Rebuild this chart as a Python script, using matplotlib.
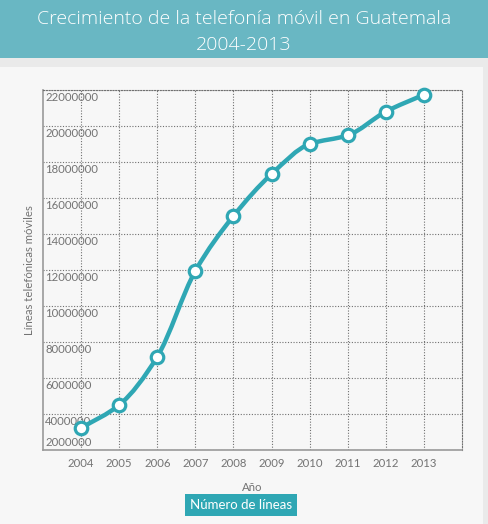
import numpy as np
import matplotlib
matplotlib.use("Agg")
import matplotlib.pyplot as plt
from matplotlib.path import Path
from matplotlib.patches import PathPatch, Rectangle

# datos
anios = [2004, 2005, 2006, 2007, 2008, 2009, 2010, 2011, 2012, 2013]
lineas = [3220000, 4500000, 7180000, 11950000, 15000000, 17330000,
          19000000, 19480000, 20800000, 21740000]
yticks = [2000000, 4000000, 6000000, 8000000, 10000000, 12000000,
          14000000, 16000000, 18000000, 20000000, 22000000]

teal = '#2fa7b4'
gris_txt = '#737373'
fuente = ['Lato', 'DejaVu Sans']


def curva_suave(x, y):
    # spline monotona (Fritsch-Carlson) convertida a Bezier
    x = np.asarray(x, float)
    y = np.asarray(y, float)
    h = np.diff(x)
    d = np.diff(y) / h
    m = np.zeros_like(y)
    m[0], m[-1] = d[0], d[-1]
    for i in range(1, len(y) - 1):
        if d[i - 1] * d[i] > 0:
            m[i] = 2 / (1 / d[i - 1] + 1 / d[i])
    verts = [(x[0], y[0])]
    codes = [Path.MOVETO]
    for i in range(len(h)):
        verts += [(x[i] + h[i] / 3, y[i] + m[i] * h[i] / 3),
                  (x[i + 1] - h[i] / 3, y[i + 1] - m[i + 1] * h[i] / 3),
                  (x[i + 1], y[i + 1])]
        codes += [Path.CURVE4] * 3
    return Path(verts, codes)


fig = plt.figure(figsize=(4.88, 5.24), dpi=100)
fig.patch.set_facecolor('#eaeaea')

# banda del titulo y panel
fig.patches.append(Rectangle((0, 1 - 58 / 524), 1, 58 / 524, transform=fig.transFigure,
                             facecolor='#69b7c3', edgecolor='none', zorder=-2))
fig.patches.append(Rectangle((0, 0), 483 / 488, 1 - 67 / 524, transform=fig.transFigure,
                             facecolor='#f7f7f7', edgecolor='none', zorder=-2))
fig.text(0.5, 1 - 32 / 524, 'Crecimiento de la telefonía móvil en Guatemala\n2004-2013',
         ha='center', va='center', color='white', fontsize=14,
         family=['Open Sans', 'DejaVu Sans'], fontweight='light', linespacing=1.55)

ax = fig.add_axes([43 / 488, 1 - 450 / 524, 419 / 488, 360 / 524])
ax.set_facecolor('#f7f7f7')
ax.set_xlim(2003, 2014)
ax.set_ylim(2000000, 22000000)

ax.set_xticks(anios)
ax.set_xticklabels([str(a) for a in anios], family=fuente, fontsize=8.2, color=gris_txt)
ax.set_yticks(yticks)
ax.set_yticklabels([])
ax.tick_params(length=0)
ax.tick_params(axis='x', pad=6)
ax.grid(True, color='#707070', linestyle=(0, (1, 1.5)), linewidth=0.8)
ax.set_axisbelow(True)

for lado in ['top', 'right']:
    ax.spines[lado].set_linestyle((0, (1, 1.5)))
    ax.spines[lado].set_color('#707070')
    ax.spines[lado].set_linewidth(0.8)
for lado in ['left', 'bottom']:
    ax.spines[lado].set_color('#9a9a9a')
    ax.spines[lado].set_linewidth(1.2)

# etiquetas del eje y dentro del grafico
trans = ax.get_yaxis_transform()
for v in yticks:
    va = 'bottom' if v == yticks[0] else 'top'
    off = 1.5 if v == yticks[0] else -1.5
    ax.annotate(str(v), (0, v), xycoords=trans, xytext=(1.5, off),
                textcoords='offset points', ha='left', va=va,
                family=fuente, fontsize=8.2, color=gris_txt)

ax.add_patch(PathPatch(curva_suave(anios, lineas), facecolor='none',
                       edgecolor=teal, linewidth=3.2, capstyle='round', zorder=3))
ax.plot(anios, lineas, linestyle='none', marker='o', markersize=9,
        markerfacecolor='white', markeredgecolor=teal, markeredgewidth=2.3,
        zorder=4, clip_on=False)

ax.set_ylabel('Líneas telefónicas móviles', family=fuente, fontsize=8.2, color=gris_txt)
ax.yaxis.set_label_coords(-0.019, 0.5)
ax.set_xlabel('Año', family=fuente, fontsize=8.2, color=gris_txt, labelpad=9)

fig.text(241 / 488, 1 - 505 / 524, 'Número de líneas', ha='center', va='center',
         color='white', fontsize=9.5, family=fuente,
         bbox=dict(boxstyle='square,pad=0.35', facecolor=teal, edgecolor='none'))

fig.savefig('out.png', dpi=100, facecolor=fig.get_facecolor())
